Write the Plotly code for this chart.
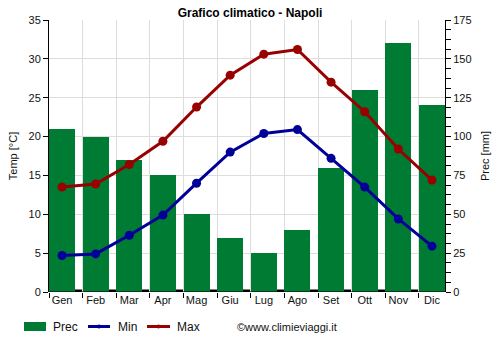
import plotly.graph_objects as go

months = ["Gen", "Feb", "Mar", "Apr", "Mag", "Giu", "Lug", "Ago", "Set", "Ott", "Nov", "Dic"]
prec = [105, 100, 85, 75, 50, 35, 25, 40, 80, 130, 160, 120]
tmin = [4.7, 4.9, 7.3, 9.9, 14.0, 18.0, 20.4, 20.9, 17.2, 13.5, 9.4, 5.9]
tmax = [13.5, 13.9, 16.4, 19.4, 23.8, 27.9, 30.6, 31.2, 27.0, 23.2, 18.4, 14.4]

GREEN = "#007b33"
BLUE = "#000099"
RED = "#990000"
FONT = "Liberation Sans"

xs = list(range(len(months)))
bw = 0.774
half = bw / 2
edges = [i - half for i in xs]

fig = go.Figure()
# bars on primary (right side) axis so the temperature lines are drawn above them
fig.add_trace(go.Bar(x=xs, y=prec, width=bw, marker=dict(color=GREEN, line=dict(width=0)),
                     yaxis="y", name="Prec", showlegend=False))
fig.add_trace(go.Scatter(x=xs, y=tmin, mode="lines+markers", name="Min", yaxis="y2",
                         line=dict(color=BLUE, width=3), marker=dict(size=9, color=BLUE),
                         showlegend=False))
fig.add_trace(go.Scatter(x=xs, y=tmax, mode="lines+markers", name="Max", yaxis="y2",
                         line=dict(color=RED, width=3), marker=dict(size=9, color=RED),
                         showlegend=False))
# invisible trace for overlay x axis (edges: ticks and vertical grid)
fig.add_trace(go.Scatter(x=[xs[0]], y=[0], xaxis="x2", yaxis="y", mode="markers",
                         marker=dict(opacity=0), showlegend=False, hoverinfo="skip"))

xr = [-half, len(months) - 1 + half]

fig.update_layout(
    width=500, height=350,
    margin=dict(l=49, r=55, t=20, b=58),
    paper_bgcolor="white", plot_bgcolor="white",
    font=dict(family=FONT, size=11, color="#111"),
    title=dict(text="<b>Grafico climatico - Napoli</b>", x=0.5, xanchor="center",
               y=1 - 13 / 350, yanchor="middle", font=dict(size=12, color="#000")),
    bargap=0,
    xaxis=dict(range=xr, tickmode="array", tickvals=xs, ticktext=months,
               showgrid=False, ticks="", showline=False, zeroline=False,
               tickfont=dict(size=11)),
    xaxis2=dict(range=xr, overlaying="x", anchor="y", side="bottom", tickmode="array",
                tickvals=edges, showticklabels=False, ticks="outside", ticklen=5,
                tickcolor="#000", showgrid=True, gridcolor="#dddddd", gridwidth=1,
                showline=False, zeroline=False),
    yaxis=dict(range=[0, 175], dtick=25, side="right", ticks="outside",
               ticklen=5, tickcolor="#000", showline=True, linecolor="#000", linewidth=1,
               showgrid=True, gridcolor="#dddddd", zeroline=False,
               minor=dict(dtick=6.25, ticks="outside", ticklen=5, tickcolor="#000",
                          showgrid=False),
               title=dict(text="Prec [mm]", standoff=10, font=dict(size=11)),
               tickfont=dict(size=11)),
    yaxis2=dict(range=[0, 35], dtick=5, overlaying="y", side="left", ticks="outside",
                ticklen=5, tickcolor="#000", showline=True, linecolor="#000", linewidth=1,
                showgrid=False, zeroline=False,
                title=dict(text="Temp [°C]", standoff=8, font=dict(size=11)),
                tickfont=dict(size=11)),
)

# black band at the base, behind the bars
fig.add_shape(type="rect", xref="paper", yref="y", x0=0, x1=1, y0=0, y1=1.6,
              fillcolor="#000", line=dict(width=0), layer="below")

# bottom axis line
fig.add_shape(type="line", xref="paper", yref="y", x0=0, x1=1, y0=0, y1=0,
              line=dict(color="#000", width=1))

# manual legend
def px_x(px):
    return (px - 49) / (445 - 49)
def px_y(py):
    return (292 - py) / (292 - 20)

fig.add_shape(type="rect", xref="paper", yref="paper", x0=px_x(24), x1=px_x(46),
              y0=px_y(331), y1=px_y(322), fillcolor=GREEN, line=dict(width=0))
fig.add_annotation(xref="paper", yref="paper", x=px_x(51), y=px_y(326.5), text="Prec",
                   showarrow=False, xanchor="left", yanchor="middle", font=dict(size=12))
for x0, x1, col, name, tx in [(88, 110, BLUE, "Min", 116), (147, 170, RED, "Max", 175)]:
    fig.add_shape(type="line", xref="paper", yref="paper", x0=px_x(x0), x1=px_x(x1),
                  y0=px_y(326.5), y1=px_y(326.5), line=dict(color=col, width=3))
    fig.add_shape(type="circle", xref="paper", yref="paper",
                  x0=px_x((x0 + x1) / 2 - 2), x1=px_x((x0 + x1) / 2 + 2),
                  y0=px_y(328.5), y1=px_y(324.5), fillcolor=col, line=dict(width=0))
    fig.add_annotation(xref="paper", yref="paper", x=px_x(tx), y=px_y(326.5), text=name,
                       showarrow=False, xanchor="left", yanchor="middle", font=dict(size=12))

fig.add_annotation(xref="paper", yref="paper", x=px_x(235), y=px_y(326.5),
                   text="©www.climieviaggi.it", showarrow=False, xanchor="left",
                   yanchor="middle", font=dict(size=11))

fig.write_html("out.html")
